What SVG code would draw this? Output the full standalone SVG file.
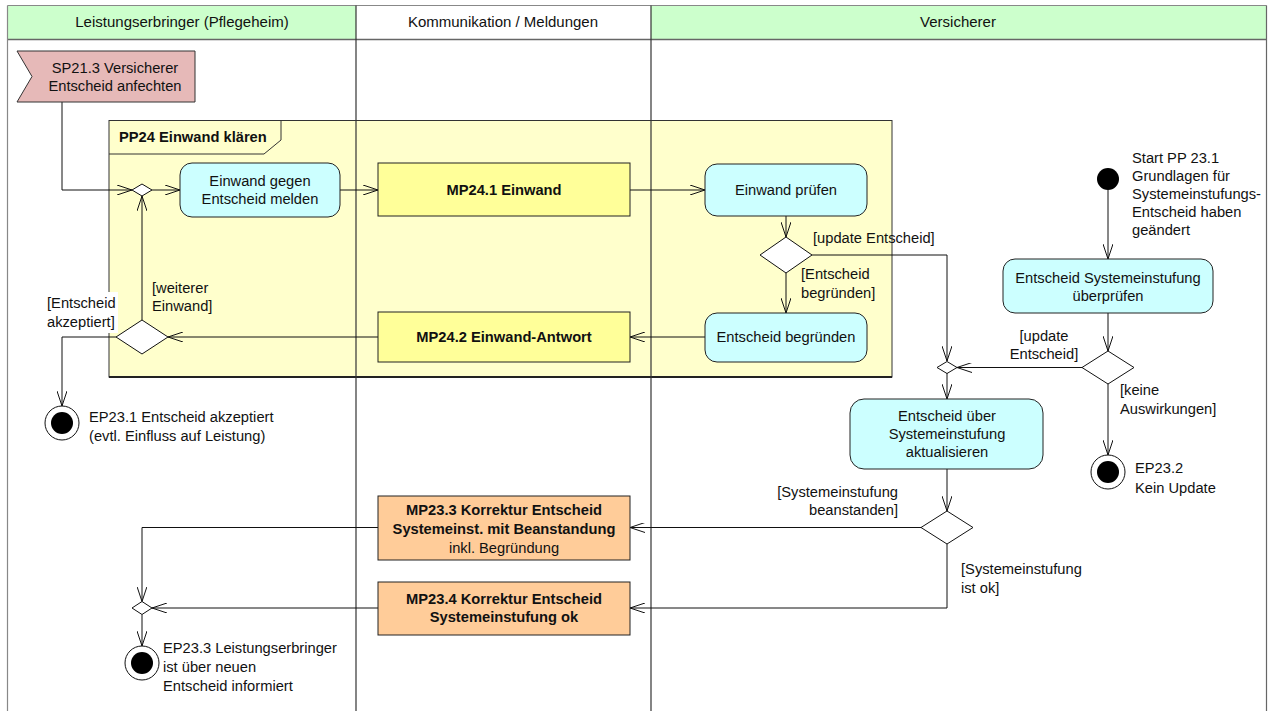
<svg xmlns="http://www.w3.org/2000/svg" width="1272" height="711" viewBox="0 0 1272 711">
  <style>
    text { font-family: "Liberation Sans", Arial, sans-serif; font-size: 14.7px; fill: #111; }
    .hdr { font-size: 15px; text-anchor: middle; }
    .c { text-anchor: middle; }
    .e { text-anchor: end; }
    .b { font-weight: bold; }
    .act { fill: #ccffff; stroke: #222; stroke-width: 1; }
    .msg { fill: #ffff99; stroke: #222; stroke-width: 1; }
    .cor { fill: #ffcc99; stroke: #222; stroke-width: 1; }
    .dia { fill: #ffffff; stroke: #111; stroke-width: 1; }
    .lane { stroke: #333; stroke-width: 1.2; fill: none; }
    .edge { stroke: #111; stroke-width: 1; fill: none; marker-end: url(#arr); }
    .line { stroke: #111; stroke-width: 1; fill: none; }
  </style>
  <defs>
    <marker id="arr" viewBox="0 0 15 10" refX="15" refY="5" markerWidth="15" markerHeight="10" markerUnits="userSpaceOnUse" orient="auto">
      <path d="M0,0 L15,5 L0,10" fill="none" stroke="#111" stroke-width="1"/>
    </marker>
  </defs>

  <rect x="0" y="0" width="1272" height="711" fill="#ffffff"/>

  <!-- swimlane headers -->
  <g id="lane-headers">
    <rect x="7.5" y="5.5" width="348.5" height="34" fill="#ccffcc"/>
    <rect x="356" y="5.5" width="295" height="34" fill="#ffffff"/>
    <rect x="651" y="5.5" width="615.5" height="34" fill="#ccffcc"/>
    <line x1="7.5" y1="5.5" x2="1266.5" y2="5.5" stroke="#888" stroke-width="1.2"/>
    <line x1="7.5" y1="39.5" x2="1266.5" y2="39.5" stroke="#666" stroke-width="1.4"/>
    <text class="hdr" x="182" y="27">Leistungserbringer (Pflegeheim)</text>
    <text class="hdr" x="503" y="27">Kommunikation / Meldungen</text>
    <text class="hdr" x="958" y="27">Versicherer</text>
  </g>

  <!-- PP24 frame -->
  <g id="pp24-frame">
    <rect x="109" y="120.5" width="783" height="256.5" fill="#ffffcc" stroke="#333" stroke-width="1"/>
    <line x1="109" y1="377" x2="892" y2="377" stroke="#222" stroke-width="2"/>
    <path d="M109,154 L264,154 L281,140 L281,120.5" fill="none" stroke="#333" stroke-width="1"/>
    <text class="b" x="119" y="142">PP24 Einwand klären</text>
  </g>

  <!-- lane borders -->
  <g id="lane-lines">
    <line x1="7.5" y1="5.5" x2="7.5" y2="711" stroke="#888" stroke-width="1.2"/>
    <line class="lane" x1="356" y1="5.5" x2="356" y2="711"/>
    <line class="lane" x1="651" y1="5.5" x2="651" y2="711"/>
    <line x1="1266.5" y1="5.5" x2="1266.5" y2="711" stroke="#666" stroke-width="1.2"/>
  </g>

  <!-- connectors -->
  <g id="connectors">
    <path class="edge" d="M62,102 L62,190 L132,190"/>
    <path class="edge" d="M152,190 L180,190"/>
    <path class="edge" d="M340,190 L378,190"/>
    <path class="edge" d="M630,190 L705,190"/>
    <path class="edge" d="M786,216 L786,237"/>
    <path class="edge" d="M812,255 L947,255 L947,361"/>
    <path class="edge" d="M786,273 L786,313"/>
    <path class="edge" d="M705,337 L630,337"/>
    <path class="edge" d="M378,337 L168,337"/>
    <path class="edge" d="M142,320 L142,196"/>
    <path class="edge" d="M116,337 L62,337 L62,406"/>
    <path class="edge" d="M1108,190 L1108,259"/>
    <path class="edge" d="M1108,313 L1108,351"/>
    <path class="edge" d="M1082,367.5 L957,367.5"/>
    <path class="edge" d="M1108,384 L1108,455"/>
    <path class="edge" d="M947,373 L947,399"/>
    <path class="edge" d="M947,469 L947,511"/>
    <path class="edge" d="M921,527.5 L630,527.5"/>
    <path class="edge" d="M947,544 L947,608 L630,608"/>
    <path class="edge" d="M378,527.5 L142,527.5 L142,601.5"/>
    <path class="edge" d="M378,608 L152,608"/>
    <path class="edge" d="M142,614.5 L142,646"/>
  </g>

  <!-- guard labels -->
  <g id="guards">
    <rect x="45" y="292" width="73" height="41" fill="#ffffff"/>
    <text x="47" y="308">[Entscheid</text>
    <text x="47" y="327">akzeptiert]</text>
    <text x="152" y="293">[weiterer</text>
    <text x="152" y="311">Einwand]</text>
    <text x="813" y="243">[update Entscheid]</text>
    <text x="801" y="279">[Entscheid</text>
    <text x="801" y="298">begründen]</text>
    <text class="c" x="1044" y="341">[update</text>
    <text class="c" x="1044" y="359">Entscheid]</text>
    <text x="1120" y="395">[keine</text>
    <text x="1120" y="414">Auswirkungen]</text>
    <text class="e" x="898" y="497">[Systemeinstufung</text>
    <text class="e" x="898" y="515">beanstanden]</text>
    <text x="961" y="574">[Systemeinstufung</text>
    <text x="961" y="593">ist ok]</text>
  </g>

  <g id="sp21-3">
    <polygon points="17,51 195,51 195,102 17,102 32,76.5" fill="#e6b9b8" stroke="#333" stroke-width="1"/>
    <text class="c" x="115" y="73">SP21.3 Versicherer</text>
    <text class="c" x="115" y="91">Entscheid anfechten</text>
  </g>

  <g id="merge-einwand">
    <polygon class="dia" points="132,190 142,184 152,190 142,196"/>
  </g>

  <g id="einwand-melden">
    <rect class="act" x="180" y="163" width="160" height="54" rx="12"/>
    <text class="c" x="260" y="186">Einwand gegen</text>
    <text class="c" x="260" y="204">Entscheid melden</text>
  </g>

  <g id="mp24-1">
    <rect class="msg" x="378" y="163" width="252" height="53"/>
    <text class="c b" x="504" y="195">MP24.1 Einwand</text>
  </g>

  <g id="einwand-pruefen">
    <rect class="act" x="705" y="164" width="162" height="52" rx="12"/>
    <text class="c" x="786" y="195">Einwand prüfen</text>
  </g>

  <g id="decision-pruefen">
    <polygon class="dia" points="760,255 786,237 812,255 786,273"/>
  </g>

  <g id="entscheid-begruenden">
    <rect class="act" x="705" y="313" width="162" height="49" rx="12"/>
    <text class="c" x="786" y="342">Entscheid begründen</text>
  </g>

  <g id="mp24-2">
    <rect class="msg" x="378" y="312" width="252" height="50"/>
    <text class="c b" x="504" y="342">MP24.2 Einwand-Antwort</text>
  </g>

  <g id="decision-antwort">
    <polygon class="dia" points="116,337 142,320 168,337 142,354"/>
  </g>

  <g id="ep23-1">
    <circle cx="62" cy="423" r="17" fill="#ffffff" stroke="#111" stroke-width="1"/>
    <circle cx="62" cy="423" r="11" fill="#000"/>
    <text x="89" y="422">EP23.1 Entscheid akzeptiert</text>
    <text x="89" y="441">(evtl. Einfluss auf Leistung)</text>
  </g>

  <g id="start-pp23-1">
    <circle cx="1108" cy="179" r="11" fill="#000"/>
    <text x="1132" y="163">Start PP 23.1</text>
    <text x="1132" y="181">Grundlagen für</text>
    <text x="1132" y="199">Systemeinstufungs-</text>
    <text x="1132" y="217">Entscheid haben</text>
    <text x="1132" y="235">geändert</text>
  </g>

  <g id="systemeinstufung-pruefen">
    <rect class="act" x="1003" y="259" width="210" height="54" rx="12"/>
    <text class="c" x="1108" y="283">Entscheid Systemeinstufung</text>
    <text class="c" x="1108" y="301">überprüfen</text>
  </g>

  <g id="decision-auswirkung">
    <polygon class="dia" points="1082,367.5 1108,351 1134,367.5 1108,384"/>
  </g>

  <g id="ep23-2">
    <circle cx="1108" cy="472" r="17" fill="#ffffff" stroke="#111" stroke-width="1"/>
    <circle cx="1108" cy="472" r="11" fill="#000"/>
    <text x="1135" y="473">EP23.2</text>
    <text x="1135" y="493">Kein Update</text>
  </g>

  <g id="merge-update">
    <polygon class="dia" points="937,367.5 947,361.5 957,367.5 947,373.5"/>
  </g>

  <g id="systemeinstufung-aktualisieren">
    <rect class="act" x="850" y="399" width="193" height="70" rx="14"/>
    <text class="c" x="947" y="421">Entscheid über</text>
    <text class="c" x="947" y="439">Systemeinstufung</text>
    <text class="c" x="947" y="457">aktualisieren</text>
  </g>

  <g id="decision-korrektur">
    <polygon class="dia" points="921,527.5 947,511 973,527.5 947,544"/>
  </g>

  <g id="mp23-3">
    <rect class="cor" x="378" y="496" width="252" height="64"/>
    <text class="c b" x="504" y="515">MP23.3 Korrektur Entscheid</text>
    <text class="c b" x="504" y="534">Systemeinst. mit Beanstandung</text>
    <text class="c" x="504" y="553">inkl. Begründung</text>
  </g>

  <g id="mp23-4">
    <rect class="cor" x="378" y="582" width="252" height="53"/>
    <text class="c b" x="504" y="604">MP23.4 Korrektur Entscheid</text>
    <text class="c b" x="504" y="622">Systemeinstufung ok</text>
  </g>

  <g id="merge-korrektur">
    <polygon class="dia" points="132,608 142,601.5 152,608 142,614.5"/>
  </g>

  <g id="ep23-3">
    <circle cx="142" cy="663" r="17" fill="#ffffff" stroke="#111" stroke-width="1"/>
    <circle cx="142" cy="663" r="11" fill="#000"/>
    <text x="163" y="653">EP23.3 Leistungserbringer</text>
    <text x="163" y="672">ist über neuen</text>
    <text x="163" y="691">Entscheid informiert</text>
  </g>
</svg>
